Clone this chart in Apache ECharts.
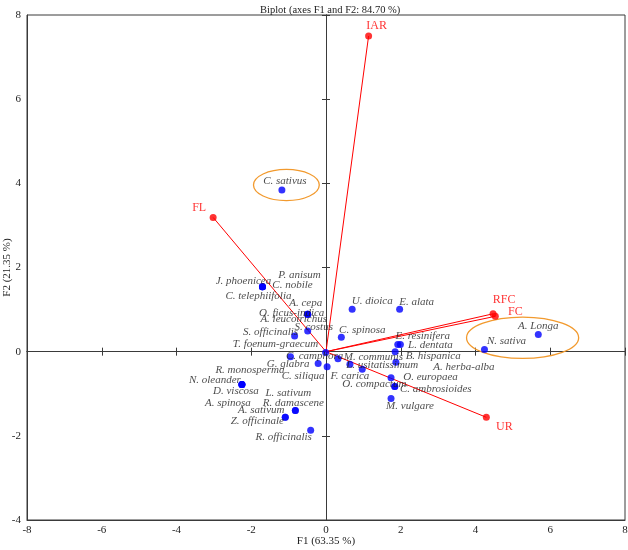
<!DOCTYPE html>
<html>
<head>
<meta charset="utf-8">
<script src="https://cdn.jsdelivr.net/npm/echarts@6/dist/echarts.min.js"></script>
<style>html,body{margin:0;padding:0;background:#fff}#c{width:628px;height:550px}</style>
</head>
<body>
<div id="c"></div>
<script>
// ---- Data (observations) ----
const pointNames = ['J. phoenicea','P. anisum','C. nobile','C. telephiifolia','A. cepa','O. ficus-indica','A. leucotrichus','S. costus','S. officinalis','T. foenum-graecum','C. spinosa','U. dioica','E. alata','E. resinifera','L. dentata','B. hispanica','A. herba-alba','C. camphora','G. glabra','C. siliqua','M. communis','F. carica','L. usitatissimum','O. europaea','O. compactum','C. ambrosioides','M. vulgare','R. monosperma','N. oleander','D. viscosa','A. spinosa','L. sativum','R. damascene','A. sativum','Z. officinale','R. officinalis','N. sativa','A. Longa','C. sativus'];
const pointF1 = [-1.70,-1.70,-1.70,-1.70,-0.49,-0.49,-0.49,-0.49,-0.84,-0.95,0.41,0.70,1.97,1.92,1.99,1.85,1.87,-0.01,-0.21,0.03,0.32,0.64,0.97,1.74,1.84,1.84,1.74,-2.25,-2.25,-2.25,-2.25,-0.82,-0.82,-1.09,-1.09,-0.41,4.24,5.68,-1.18];
const pointF2 = [1.54,1.54,1.54,1.54,0.89,0.89,0.89,0.49,0.37,-0.12,0.34,1.01,1.01,0.17,0.17,0.00,-0.25,-0.02,-0.28,-0.36,-0.17,-0.30,-0.42,-0.62,-0.83,-0.83,-1.11,-0.78,-0.78,-0.78,-0.78,-1.40,-1.40,-1.56,-1.56,-1.87,0.05,0.41,3.84];

// ---- Data (variables) ----
const varNames = ['IAR','FL','RFC','FC','UR'];
const varF1 = [1.14,-3.02,4.47,4.53,4.29];
const varF2 = [7.50,3.19,0.90,0.84,-1.56];

// ---- Highlight ellipses (centre and radii in axis units) ----
const ellipseCx = [-1.06, 5.26];
const ellipseCy = [3.96, 0.33];
const ellipseRx = [0.88, 1.50];
const ellipseRy = [0.37, 0.49];

// ---- Axis settings ----
const axisMin = { x: -8, y: -4 };
const axisMax = { x: 8, y: 8 };
const axisStep = 2;
const titleText = 'Biplot (axes F1 and F2: 84.70 %)';
const xName = 'F1 (63.35 %)';
const yName = 'F2 (21.35 %)';

// ---- Label placement (pixel offsets, layout only) ----
const labelOffset = {
  'J. phoenicea':[-19,-6],'P. anisum':[37,-12],'C. nobile':[30,-2],'C. telephiifolia':[-4,9],
  'A. cepa':[-2,-11],'O. ficus-indica':[-16,-1.5],'A. leucotrichus':[-14,5],'S. costus':[6,-4],
  'S. officinalis':[-24,-4],'T. foenum-graecum':[-15,-13],'C. spinosa':[21,-7],'U. dioica':[20,-8],
  'E. alata':[17,-7],'E. resinifera':[25,-8],'L. dentata':[30,1],'B. hispanica':[38,4],
  'A. herba-alba':[68,5],'C. camphora':[-11,3.5],'G. glabra':[-30,1],'C. siliqua':[-24,9],
  'M. communis':[35.5,-2],'F. carica':[0,12],'L. usitatissimum':[20,-4],'O. europaea':[39.5,-1],
  'O. compactum':[-20.5,-2],'C. ambrosioides':[41,2.5],'M. vulgare':[19,8],'R. monosperma':[8,-14],
  'N. oleander':[-27,-4],'D. viscosa':[-6,7],'A. spinosa':[-14,19],'L. sativum':[-7,-17],
  'R. damascene':[-2,-7],'A. sativum':[-24,-7],'Z. officinale':[-28,4],'R. officinalis':[-27,7],
  'N. sativa':[22,-8],'A. Longa':[0,-8.5],'C. sativus':[3,-9],
  'IAR':[8,-10],'FL':[-14,-10],'RFC':[11,-14],'FC':[20,-4],'UR':[18,10]
};

const FONT = 'Liberation Serif';
const AX = '#3a3a3a';

const chart = echarts.init(document.getElementById('c'), null, { renderer: 'canvas' });

function baseAxis(dim) {
  return {
    type: 'value', min: axisMin[dim], max: axisMax[dim], interval: axisStep,
    splitLine: { show: false }
  };
}

const xAxes = [
  Object.assign(baseAxis('x'), {
    position: 'bottom',
    axisLine: { onZero: false, lineStyle: { color: AX, width: 1 } },
    axisTick: { show: false },
    axisLabel: { color: '#222', fontFamily: FONT, fontSize: 11, margin: 5 },
    name: xName, nameLocation: 'middle', nameGap: 16, nameMoveOverlap: false,
    nameTextStyle: { color: '#222', fontFamily: FONT, fontSize: 11 }
  }),
  Object.assign(baseAxis('x'), {
    position: 'bottom',
    axisLine: { onZero: true, onZeroAxisIndex: 0, lineStyle: { color: AX, width: 1 } },
    axisTick: { show: true, inside: true, length: 4, lineStyle: { color: AX } },
    axisLabel: { show: false }
  }),
  Object.assign(baseAxis('x'), {
    position: 'bottom',
    axisLine: { onZero: true, onZeroAxisIndex: 0, lineStyle: { color: AX, width: 1 } },
    axisTick: { show: true, inside: false, length: 4, lineStyle: { color: AX } },
    axisLabel: { show: false }
  })
];
const yAxes = [
  Object.assign(baseAxis('y'), {
    position: 'left',
    axisLine: { onZero: false, lineStyle: { color: AX, width: 1 } },
    axisTick: { show: false },
    axisLabel: { color: '#222', fontFamily: FONT, fontSize: 11, margin: 6 },
    name: yName, nameLocation: 'middle', nameGap: 14, nameRotate: 90, nameMoveOverlap: false,
    nameTextStyle: { color: '#222', fontFamily: FONT, fontSize: 11 }
  }),
  Object.assign(baseAxis('y'), {
    position: 'left',
    axisLine: { onZero: true, onZeroAxisIndex: 0, lineStyle: { color: AX, width: 1 } },
    axisTick: { show: true, inside: true, length: 4, lineStyle: { color: AX } },
    axisLabel: { show: false }
  }),
  Object.assign(baseAxis('y'), {
    position: 'left',
    axisLine: { onZero: true, onZeroAxisIndex: 0, lineStyle: { color: AX, width: 1 } },
    axisTick: { show: true, inside: false, length: 4, lineStyle: { color: AX } },
    axisLabel: { show: false }
  })
];

const series = [];

// Ellipses
series.push({
  type: 'custom',
  xAxisIndex: 0, yAxisIndex: 0,
  silent: true, z: 1,
  data: ellipseCx.map((cx, i) => [cx, ellipseCy[i], ellipseRx[i], ellipseRy[i]]),
  encode: { x: 0, y: 1 },
  renderItem: function (params, api) {
    const c = api.coord([api.value(0), api.value(1)]);
    const s = api.size([api.value(2), api.value(3)]);
    return {
      type: 'path',
      shape: {
        pathData: 'M0,50A50,50,0,1,1,100,50A50,50,0,1,1,0,50Z',
        x: c[0] - s[0], y: c[1] - s[1], width: 2 * s[0], height: 2 * s[1],
        layout: 'cover'
      },
      style: { fill: 'none', stroke: '#f29a2e', lineWidth: 1.3 }
    };
  }
});

// Variable vectors
varNames.forEach((n, i) => {
  series.push({
    type: 'line', xAxisIndex: 0, yAxisIndex: 0, z: 3,
    data: [[0, 0], [varF1[i], varF2[i]]],
    showSymbol: false, symbol: 'none', silent: true,
    lineStyle: { color: '#ff0000', width: 1 },
    animation: false
  });
});

series.push({
  type: 'scatter', xAxisIndex: 0, yAxisIndex: 0, z: 4,
  symbolSize: 7,
  itemStyle: { color: '#ff0000' },
  data: varNames.map((n, i) => ({
    name: n, value: [varF1[i], varF2[i]],
    label: { offset: labelOffset[n] || [0, -10] }
  })),
  label: {
    show: true, position: 'inside', formatter: '{b}',
    color: '#ff0000', fontFamily: FONT, fontSize: 12
  }
});

// Observations
series.push({
  type: 'scatter', xAxisIndex: 0, yAxisIndex: 0, z: 5,
  symbolSize: 7,
  itemStyle: { color: '#0000ff' },
  data: pointNames.map((n, i) => ({
    name: n, value: [pointF1[i], pointF2[i]],
    label: { offset: labelOffset[n] || [0, -10] }
  })),
  label: {
    show: true, position: 'inside', formatter: '{b}',
    color: '#1a1a1a', fontFamily: FONT, fontStyle: 'italic', fontSize: 11
  }
});

chart.setOption({
  animation: false,
  backgroundColor: '#fff',
  title: {
    text: titleText, left: 255, top: 0,
    textStyle: { color: '#222', fontFamily: FONT, fontSize: 10.5, fontWeight: 'normal' }
  },
  grid: {
    left: 27, right: 3, top: 15, bottom: 30,
    outerBoundsMode: 'none', containLabel: false,
    show: true, borderColor: AX, borderWidth: 1, backgroundColor: 'transparent'
  },
  xAxis: xAxes,
  yAxis: yAxes,
  series: series
});
</script>
</body>
</html>
